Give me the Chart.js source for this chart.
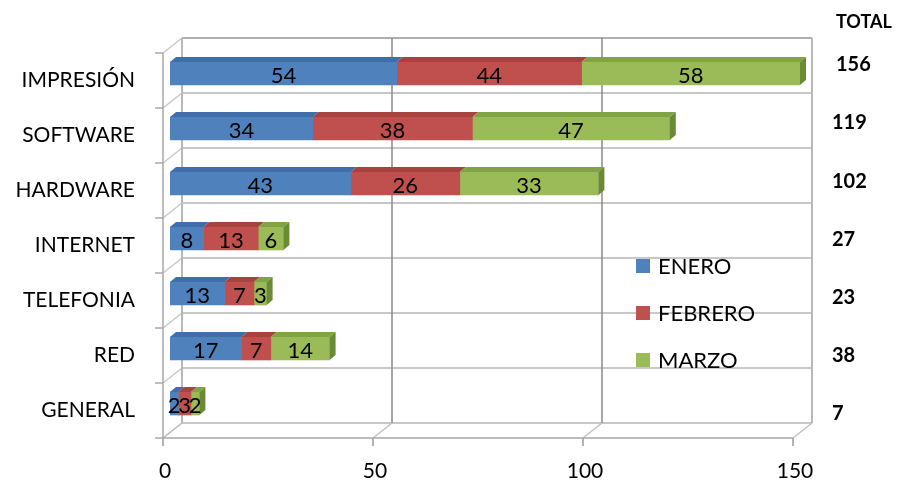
<!DOCTYPE html>
<html><head><meta charset="utf-8">
<script src="https://cdn.jsdelivr.net/npm/chart.js@4"></script>
<style>html,body{margin:0;padding:0;background:#fff}#wrap{width:900px;height:491px;position:relative}</style>
</head><body><div id="wrap"><canvas id="c"></canvas></div>
<script>
const categories = ['IMPRESIÓN','SOFTWARE','HARDWARE','INTERNET','TELEFONIA','RED','GENERAL'];
const enero   = [54,34,43,8,13,17,2];
const febrero = [44,38,26,13,7,7,3];
const marzo   = [58,47,33,6,3,14,2];
const totals  = [156,119,102,27,23,38,7];
const seriesNames = ['ENERO','FEBRERO','MARZO'];
const xTicks = [0,50,100,150];
const totalTitle = 'TOTAL';

const FONT = 'Lato, "Liberation Sans", sans-serif';
const colors = ['#4f81bd','#c0504d','#9bbb59'];
const topColors = ['#3f6ea8','#a8423f','#82a344'];
const sideColors = ['#345d8f','#8c3533','#6b8a36'];
const BACK = {dx:12, dy:-8};
const FRONT = {dx:-7, dy:7};
const DEPTH = {dx:6, dy:-5};

const frame3d = {
  id:'frame3d',
  beforeDatasetsDraw(chart){
    const {ctx, chartArea:a, scales:{x}} = chart;
    const n = categories.length;
    const step = (a.bottom - a.top)/n;
    ctx.save();
    for(let k=0;k<=n;k++){
      const y = a.top + k*step;
      ctx.strokeStyle = k===0 ? '#b0b0b0' : '#c8c8c8';
      ctx.lineWidth = 2;
      ctx.beginPath();
      ctx.moveTo(x.getPixelForValue(0)+BACK.dx, y+BACK.dy);
      ctx.lineTo(x.getPixelForValue(150)+BACK.dx, y+BACK.dy);
      ctx.stroke();
      ctx.strokeStyle = '#c8c8c8';
      ctx.lineWidth = 1.5;
      ctx.beginPath();
      ctx.moveTo(x.getPixelForValue(0)+FRONT.dx, y+FRONT.dy);
      ctx.lineTo(x.getPixelForValue(0)+BACK.dx, y+BACK.dy);
      ctx.stroke();
    }
    xTicks.forEach((v,i)=>{
      const px = x.getPixelForValue(v);
      const edge = (i===0||i===xTicks.length-1);
      ctx.strokeStyle = edge ? '#b8b8b8' : '#8a8a8a';
      ctx.lineWidth = edge ? 2 : 1.5;
      ctx.beginPath();
      ctx.moveTo(px+BACK.dx, a.top+BACK.dy);
      ctx.lineTo(px+BACK.dx, a.bottom+BACK.dy);
      ctx.stroke();
      ctx.strokeStyle = '#c0c0c0';
      ctx.lineWidth = 1.5;
      ctx.beginPath();
      ctx.moveTo(px+BACK.dx, a.bottom+BACK.dy);
      ctx.lineTo(px+FRONT.dx, a.bottom+FRONT.dy);
      ctx.stroke();
      ctx.strokeStyle = '#9a9a9a';
      ctx.beginPath();
      ctx.moveTo(px+FRONT.dx, a.bottom+FRONT.dy);
      ctx.lineTo(px+FRONT.dx, a.bottom+FRONT.dy+8);
      ctx.stroke();
    });
    ctx.strokeStyle = '#a8a8a8';
    ctx.lineWidth = 1.5;
    ctx.beginPath();
    ctx.moveTo(x.getPixelForValue(0)+FRONT.dx, a.top+FRONT.dy);
    ctx.lineTo(x.getPixelForValue(0)+FRONT.dx, a.bottom+FRONT.dy);
    ctx.lineTo(x.getPixelForValue(150)+FRONT.dx, a.bottom+FRONT.dy);
    ctx.stroke();
    for(let k=0;k<=n;k++){
      const y = a.top + k*step + FRONT.dy;
      ctx.beginPath();
      ctx.moveTo(x.getPixelForValue(0)+FRONT.dx-8, y);
      ctx.lineTo(x.getPixelForValue(0)+FRONT.dx, y);
      ctx.stroke();
    }
    ctx.restore();
  },
  afterDatasetsDraw(chart){
    const {ctx, chartArea:a} = chart;
    ctx.save();
    const last = chart.data.datasets.length-1;
    chart.data.datasets.forEach((ds,di)=>{
      const meta = chart.getDatasetMeta(di);
      meta.data.forEach((el,i)=>{
        const p = el.getProps(['x','y','base','height'], true);
        const x0 = Math.min(p.base,p.x), x1 = Math.min(Math.max(p.base,p.x), a.right);
        const top = p.y - p.height/2, bot = p.y + p.height/2;
        ctx.fillStyle = topColors[di];
        ctx.beginPath();
        ctx.moveTo(x0, top);
        ctx.lineTo(x1, top);
        ctx.lineTo(x1+DEPTH.dx, top+DEPTH.dy);
        ctx.lineTo(x0+DEPTH.dx, top+DEPTH.dy);
        ctx.closePath();
        ctx.fill();
        if(di===last){
          ctx.fillStyle = sideColors[di];
          ctx.beginPath();
          ctx.moveTo(x1, top);
          ctx.lineTo(x1+DEPTH.dx, top+DEPTH.dy);
          ctx.lineTo(x1+DEPTH.dx, bot+DEPTH.dy);
          ctx.lineTo(x1, bot);
          ctx.closePath();
          ctx.fill();
        }
      });
    });
    ctx.fillStyle = '#000';
    ctx.font = '22px ' + FONT;
    ctx.textAlign = 'center';
    ctx.textBaseline = 'middle';
    chart.data.datasets.forEach((ds,di)=>{
      const meta = chart.getDatasetMeta(di);
      meta.data.forEach((el,i)=>{
        const p = el.getProps(['x','y','base'], true);
        const cx = (Math.min(p.x,a.right) + p.base)/2;
        ctx.fillText(String(ds.data[i]), cx, p.y+2);
      });
    });
    const ys = chart.scales.y;
    const y0 = ys.getPixelForValue(0);
    ctx.font = 'bold 20px ' + FONT;
    ctx.textAlign = 'left';
    totals.forEach((t,i)=>{
      const py = 65 + (ys.getPixelForValue(i) - y0) * 1.055;
      ctx.fillText(String(t), i===0 ? 836 : 832, py);
    });
    ctx.font = 'bold 18px ' + FONT;
    ctx.fillText(totalTitle, 836, 22);
    ctx.font = '22px ' + FONT;
    seriesNames.forEach((s,i)=>{
      const cy = 266 + i*47;
      ctx.fillStyle = colors[i];
      ctx.fillRect(636, cy-7, 14, 14);
      ctx.fillStyle = '#000';
      ctx.fillText(s, 658, cy+1);
    });
    ctx.restore();
  }
};

new Chart(document.getElementById('c'), {
  type:'bar',
  data:{
    labels: categories,
    datasets:[
      {label:seriesNames[0], data:enero, backgroundColor:colors[0]},
      {label:seriesNames[1], data:febrero, backgroundColor:colors[1]},
      {label:seriesNames[2], data:marzo, backgroundColor:colors[2]}
    ]
  },
  options:{
    indexAxis:'y',
    responsive:true,
    maintainAspectRatio:false,
    animation:false,
    barThickness:23,
    layout:{padding:{top:46,right:100,left:0,bottom:0}},
    plugins:{legend:{display:false}, tooltip:{enabled:false}},
    scales:{
      x:{
        stacked:true, min:0, max:150,
        afterBuildTicks(s){ s.ticks = xTicks.map(v=>({value:v})); },
        afterFit(s){ s.height = 60; },
        grid:{display:false}, border:{display:false},
        ticks:{color:'#000', font:{family:FONT,size:21}, padding:20, labelOffset:-5, maxRotation:0}
      },
      y:{
        stacked:true,
        afterFit(s){ s.width = 170; },
        grid:{display:false}, border:{display:false},
        ticks:{color:'#000', font:{family:FONT,size:21}, padding:27, labelOffset:7}
      }
    }
  },
  plugins:[frame3d]
});
</script>
</body></html>
